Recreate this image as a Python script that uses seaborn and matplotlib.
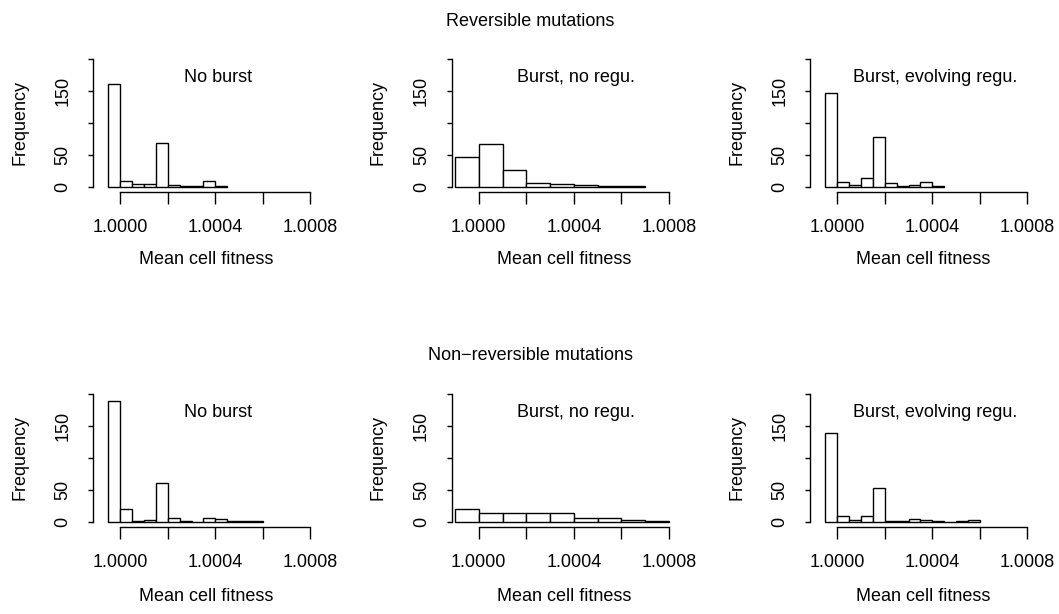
import numpy as np
import pandas as pd
import matplotlib
matplotlib.use("Agg")
import matplotlib.pyplot as plt
import seaborn as sns

sns.set_style("ticks")
plt.rcParams['font.family'] = ['Liberation Sans', 'DejaVu Sans']
plt.rcParams['text.color'] = 'black'
plt.rcParams['axes.labelcolor'] = 'black'
plt.rcParams['xtick.color'] = 'black'
plt.rcParams['ytick.color'] = 'black'

row_titles = ["Reversible mutations", "Non\u2212reversible mutations"]
panel_labels = ["No burst", "Burst, no regu.", "Burst, evolving regu."]

# bin start, bin width and counts per panel (row-major)
bin_starts = [0.99995, 0.9999, 0.99995, 0.99995, 0.9999, 0.99995]
bin_widths = [0.00005, 0.0001, 0.00005, 0.00005, 0.0001, 0.00005]
counts_rev_noburst = [160, 9, 4, 4, 68, 3, 1, 1, 8, 1]
counts_rev_burst_noregu = [46, 66, 26, 6, 4, 3, 1, 1]
counts_rev_burst_evoregu = [147, 7, 3, 13, 77, 5, 1, 3, 7, 1]
counts_nonrev_noburst = [188, 19, 1, 3, 60, 5, 1, 0, 5, 4, 1, 1, 1]
counts_nonrev_burst_noregu = [19, 13, 13, 13, 14, 5, 5, 3, 1]
counts_nonrev_burst_evoregu = [138, 8, 2, 8, 53, 1, 1, 4, 3, 1, 0, 1, 3]
all_counts = [counts_rev_noburst, counts_rev_burst_noregu, counts_rev_burst_evoregu,
              counts_nonrev_noburst, counts_nonrev_burst_noregu, counts_nonrev_burst_evoregu]

x_ticks = [1.0000, 1.0002, 1.0004, 1.0006, 1.0008]
x_ticklabels = ["1.0000", "", "1.0004", "", "1.0008"]
y_ticks = [0, 50, 100, 150, 200]
y_ticklabels = ["0", "50", "", "150", ""]

W, H = 1059, 614
fig = plt.figure(figsize=(W / 100, H / 100), dpi=100)

ax_w = 225.6
ax_h = 138.2
lefts = [93 + 358.5 * i for i in range(3)]
bottoms = [191.7, 526.7]
xlabel_off = [68.3, 70.0]
fs = 13

for r in range(2):
    for c in range(3):
        k = r * 3 + c
        counts = np.array(all_counts[k], dtype=float)
        n = len(counts)
        start = bin_starts[k]
        stop = start + bin_widths[k] * n
        centers = start + bin_widths[k] * (np.arange(n) + 0.5)
        df = pd.DataFrame({"x": centers, "w": counts})
        ax = fig.add_axes([lefts[c] / W, 1 - bottoms[r] / H, ax_w / W, ax_h / H])
        sns.histplot(data=df, x="x", weights="w", bins=n, binrange=(start, stop),
                     stat="count", color="white", edgecolor="black",
                     linewidth=1.0, alpha=1, ax=ax)
        ax.set_xlim(0.999885, 1.000835)
        ax.set_ylim(-8, 208)
        for s in ["top", "right"]:
            ax.spines[s].set_visible(False)
        ax.spines["left"].set_bounds(0, 200)
        ax.spines["bottom"].set_bounds(1.0, 1.0008)
        for s in ["left", "bottom"]:
            ax.spines[s].set_linewidth(1.0)
            ax.spines[s].set_color("black")
        ax.set_xticks(x_ticks)
        ax.set_xticklabels(x_ticklabels, fontsize=fs)
        ax.set_yticks(y_ticks)
        ax.set_yticklabels(y_ticklabels, fontsize=fs, rotation=90, va="center")
        ax.tick_params(axis="x", which="major", bottom=True, direction="out",
                       length=8.4, width=1.0, pad=11, colors="black")
        ax.tick_params(axis="y", which="major", left=True, direction="out",
                       length=3.6, width=1.0, pad=12, colors="black")
        ax.set_xlabel("Mean cell fitness", fontsize=fs, color="black")
        ax.xaxis.set_label_coords(0.5, -xlabel_off[r] / ax_h)
        ax.xaxis.label.set_va("center")
        ax.set_ylabel("Frequency", fontsize=fs, color="black")
        ax.yaxis.set_label_coords((20 - 93) / ax_w, 0.5)
        ax.yaxis.label.set_va("center")
        ax.text(1.00041, 170, panel_labels[c], fontsize=fs, ha="center",
                va="center", color="black")
        ax.grid(False)
        ax.set_facecolor("white")

fig.text(530 / W, 1 - 22 / H, row_titles[0], fontsize=fs, ha="center",
         va="center", color="black")
fig.text(530 / W, 1 - 356 / H, row_titles[1], fontsize=fs, ha="center",
         va="center", color="black")

fig.savefig("out.png", dpi=100, facecolor="white")
